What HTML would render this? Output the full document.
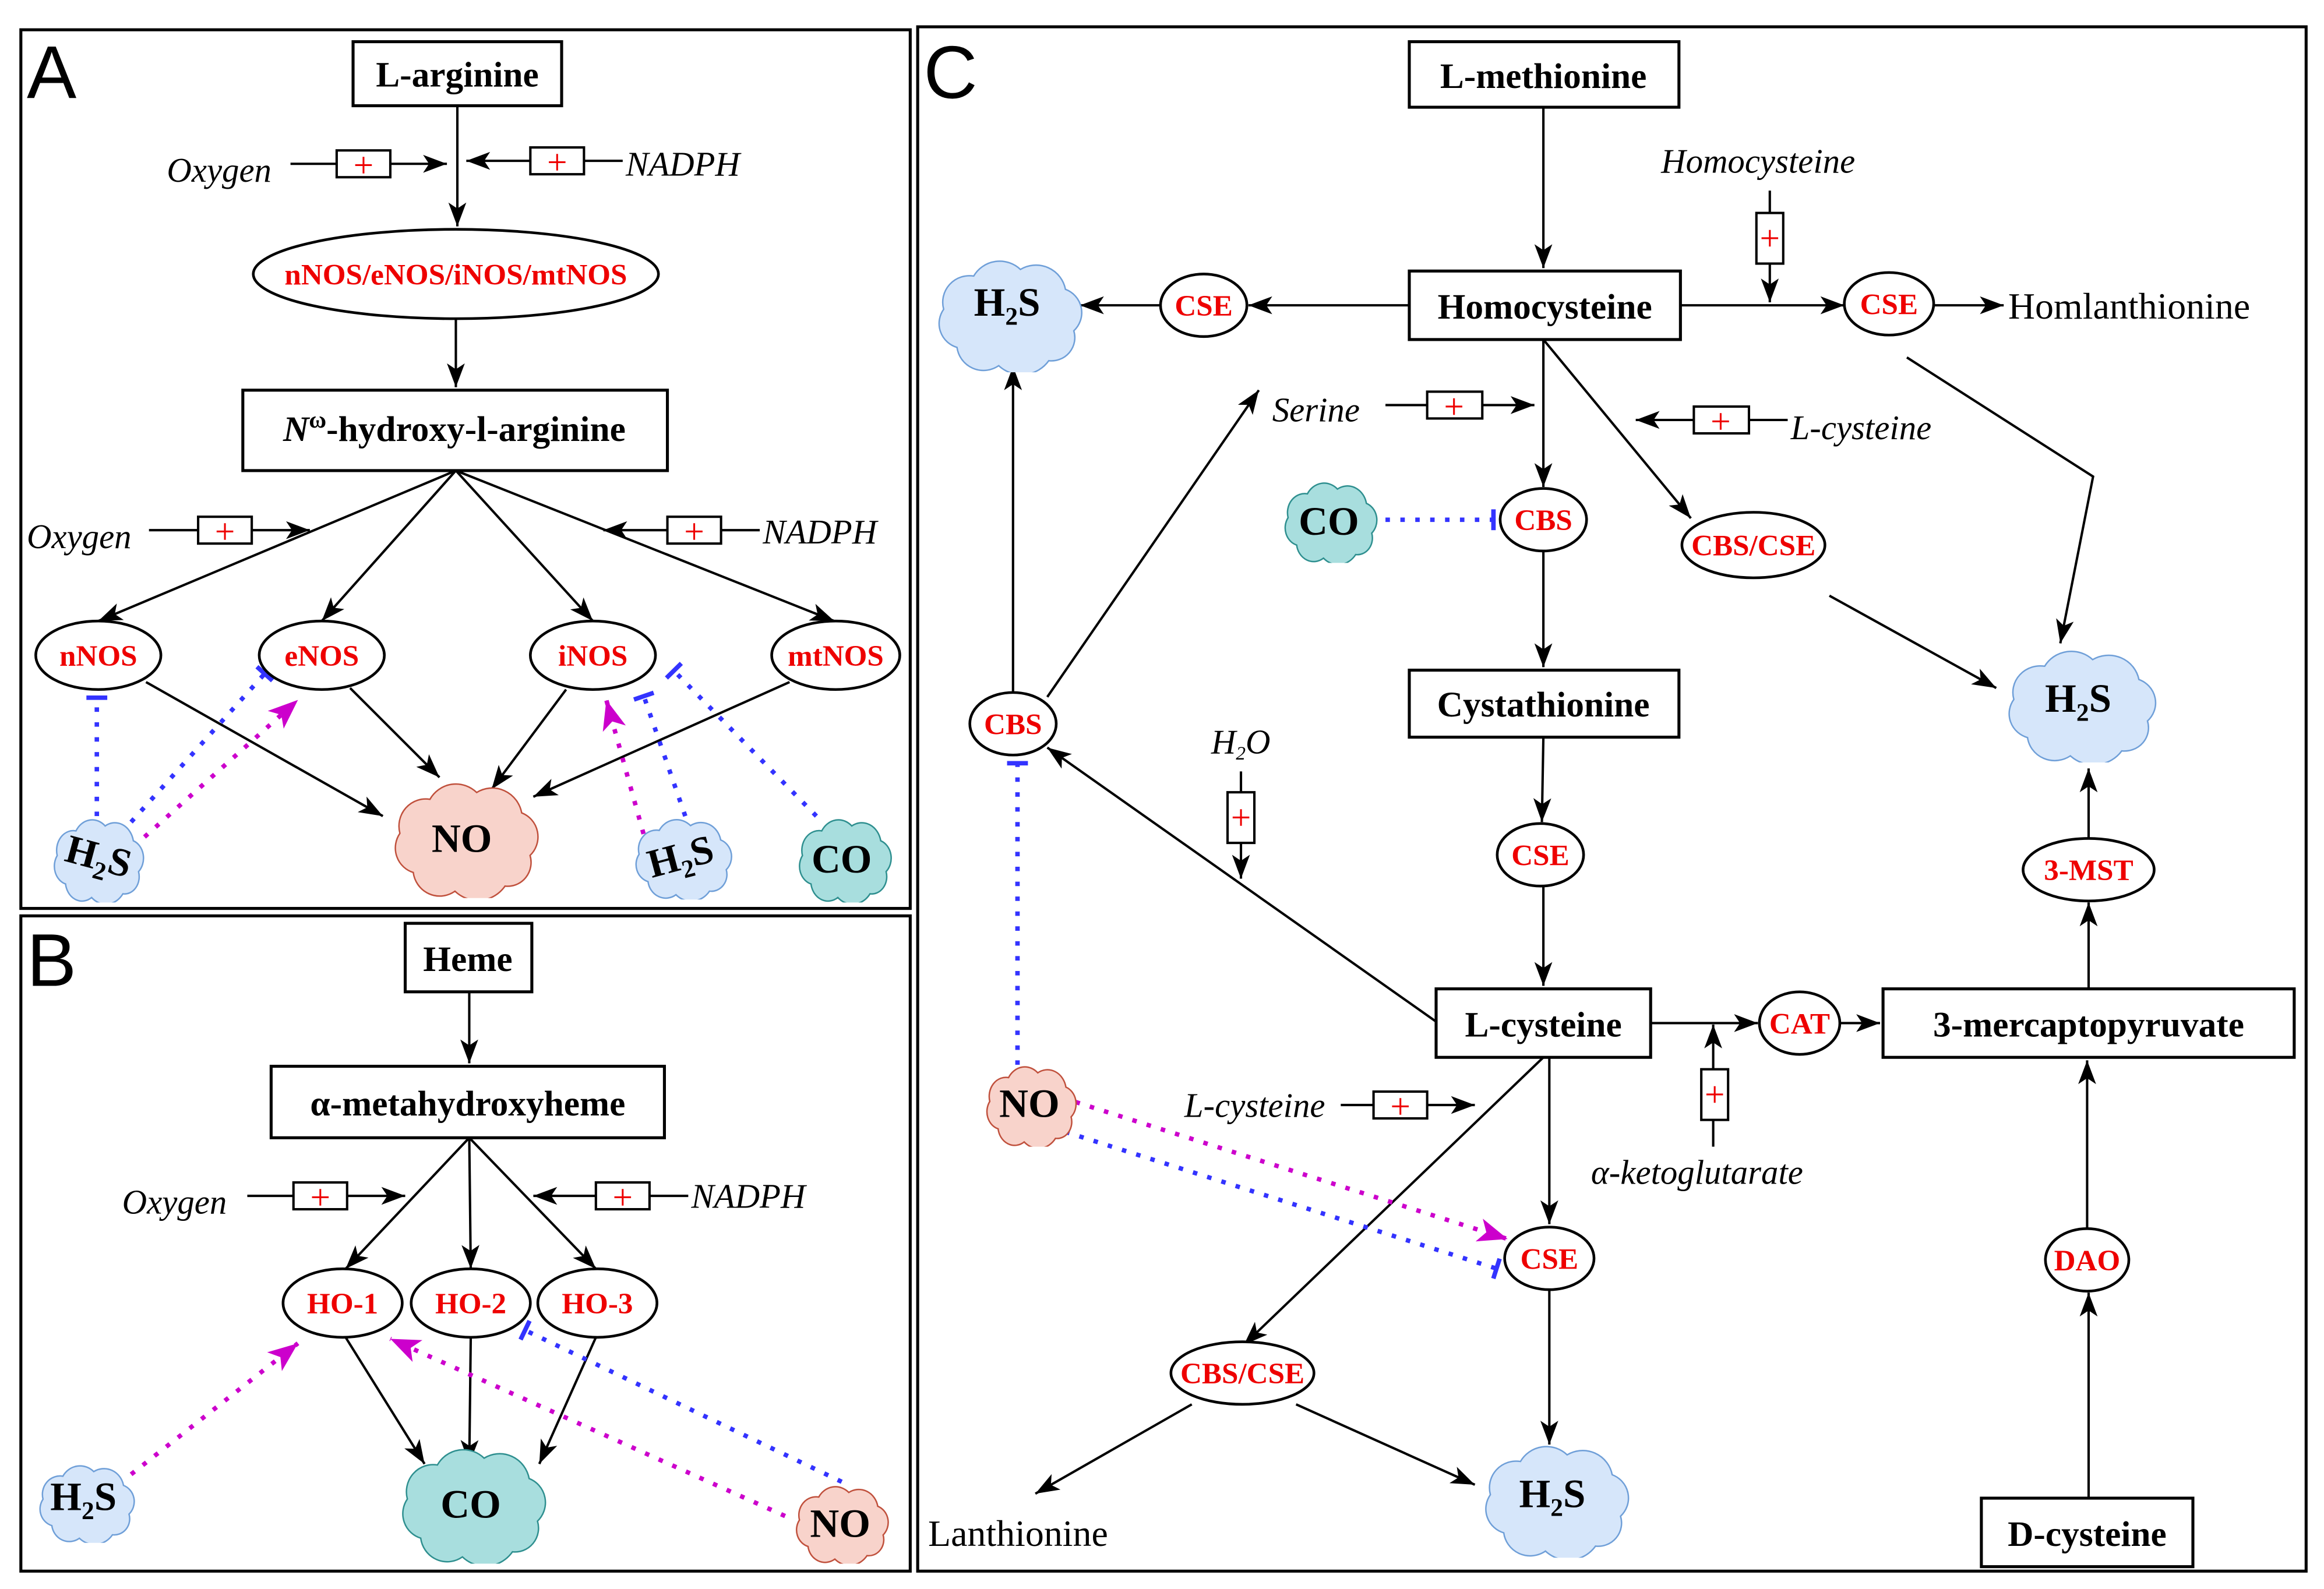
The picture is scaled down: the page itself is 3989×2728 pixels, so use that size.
<!DOCTYPE html>
<html><head><meta charset="utf-8"><style>
html,body{margin:0;padding:0;background:#fff}
svg{display:block}
text{font-family:"Liberation Serif",serif}
.b{font-weight:bold;font-size:24px;text-anchor:middle}
.e{font-weight:bold;font-size:20px;fill:#e00;text-anchor:middle}
.i{font-style:italic;font-size:23px}
.p{fill:#e00;font-size:24px;text-anchor:middle}
.c{font-weight:bold;font-size:27px;text-anchor:middle}
</style></head><body>
<svg width="3989" height="2728" viewBox="0 0 1560 1067" preserveAspectRatio="none" xmlns="http://www.w3.org/2000/svg">
<defs>
<marker id="a" markerUnits="userSpaceOnUse" markerWidth="18" markerHeight="14" refX="16" refY="7" orient="auto"><path d="M0,1 L16,7 L0,13 L4,7 Z" fill="#000"/></marker>
<marker id="m" markerUnits="userSpaceOnUse" markerWidth="22" markerHeight="18" refX="20" refY="9" orient="auto"><path d="M0,1 L20,9 L0,17 L5,9 Z" fill="#c0c"/></marker>
<marker id="t" markerUnits="userSpaceOnUse" markerWidth="6" markerHeight="16" refX="3" refY="8" orient="auto"><rect x="1" y="1" width="3" height="14" fill="#33f"/></marker>
<symbol id="cl" viewBox="0 0 100 70" preserveAspectRatio="none"><path vector-effect="non-scaling-stroke" stroke-width="2.5" d="M20,55 A15,15 0 0 1 12,32 A16,16 0 0 1 30,12 A18,18 0 0 1 58,8 A18,18 0 0 1 85,20 A15,15 0 0 1 90,45 A14,14 0 0 1 75,63 A20,20 0 0 1 45,66 A16,16 0 0 1 20,55 Z"/></symbol>
</defs>
<g fill="none" stroke="#000" stroke-width="2">
<rect x="14" y="20" width="597" height="590"/>
<rect x="14" y="615" width="597" height="440"/>
<rect x="616" y="18" width="932" height="1037"/>
</g>
<text x="18" y="66" style="font-family:'Liberation Sans',sans-serif" font-size="50">A</text>
<text x="18" y="662" style="font-family:'Liberation Sans',sans-serif" font-size="50">B</text>
<text x="620" y="66" style="font-family:'Liberation Sans',sans-serif" font-size="50">C</text>

<g stroke="#000" stroke-width="1.6" fill="none" marker-end="url(#a)">
<line x1="307" y1="71" x2="307" y2="152"/>
<line x1="195" y1="110" x2="300" y2="110"/>
<line x1="418" y1="108" x2="313" y2="108"/>
<line x1="306" y1="214" x2="306" y2="260"/>
<line x1="306" y1="316" x2="66" y2="417"/>
<line x1="306" y1="316" x2="216" y2="417"/>
<line x1="306" y1="316" x2="398" y2="417"/>
<line x1="306" y1="316" x2="560" y2="417"/>
<line x1="100" y1="356" x2="208" y2="356"/>
<line x1="510" y1="356" x2="405" y2="356"/>
<line x1="98" y1="458" x2="257" y2="548"/>
<line x1="235" y1="462" x2="295" y2="522"/>
<line x1="380" y1="463" x2="330" y2="530"/>
<line x1="530" y1="458" x2="358" y2="535"/>
<line x1="315" y1="666" x2="315" y2="714"/>
<line x1="166" y1="803" x2="272" y2="803"/>
<line x1="462" y1="803" x2="358" y2="803"/>
<line x1="315" y1="764" x2="232" y2="852"/>
<line x1="315" y1="764" x2="316" y2="852"/>
<line x1="315" y1="764" x2="400" y2="852"/>
<line x1="232" y1="898" x2="285" y2="983"/>
<line x1="316" y1="898" x2="315" y2="983"/>
<line x1="400" y1="898" x2="362" y2="983"/>
<line x1="1036" y1="72" x2="1036" y2="180"/>
<line x1="1188" y1="128" x2="1188" y2="203"/>
<line x1="1128" y1="205" x2="1238" y2="205"/>
<line x1="1298" y1="205" x2="1345" y2="205"/>
<line x1="946" y1="205" x2="838" y2="205"/>
<line x1="779" y1="205" x2="725" y2="205"/>
<line x1="930" y1="272" x2="1030" y2="272"/>
<line x1="1200" y1="282" x2="1098" y2="282"/>
<line x1="1036" y1="228" x2="1036" y2="327"/>
<line x1="1036" y1="228" x2="1135" y2="348"/>
<polyline points="1280,240 1405,320 1383,432"/>
<line x1="1228" y1="400" x2="1340" y2="462"/>
<line x1="1036" y1="370" x2="1036" y2="448"/>
<line x1="1036" y1="495" x2="1035" y2="552"/>
<line x1="1036" y1="595" x2="1036" y2="662"/>
<line x1="833" y1="518" x2="833" y2="590"/>
<line x1="964" y1="686" x2="703" y2="502"/>
<line x1="680" y1="465" x2="680" y2="246"/>
<line x1="703" y1="468" x2="845" y2="262"/>
<line x1="900" y1="742" x2="990" y2="742"/>
<line x1="1108" y1="687" x2="1180" y2="687"/>
<line x1="1235" y1="687" x2="1262" y2="687"/>
<line x1="1150" y1="770" x2="1150" y2="688"/>
<line x1="1402" y1="664" x2="1402" y2="606"/>
<line x1="1402" y1="563" x2="1402" y2="516"/>
<line x1="1402" y1="1006" x2="1402" y2="868"/>
<line x1="1401" y1="825" x2="1401" y2="712"/>
<line x1="1040" y1="710" x2="1040" y2="822"/>
<line x1="1040" y1="866" x2="1040" y2="970"/>
<line x1="1036" y1="710" x2="835" y2="903"/>
<line x1="800" y1="943" x2="695" y2="1003"/>
<line x1="870" y1="943" x2="990" y2="997"/>
</g>

<g fill="none" stroke-width="3" stroke-dasharray="3,7">
<line x1="65" y1="548" x2="65" y2="468" stroke="#33f" marker-end="url(#t)"/>
<line x1="88" y1="552" x2="178" y2="452" stroke="#33f" marker-end="url(#t)"/>
<line x1="97" y1="562" x2="200" y2="470" stroke="#c0c" marker-end="url(#m)"/>
<line x1="432" y1="560" x2="407" y2="470" stroke="#c0c" marker-end="url(#m)"/>
<line x1="460" y1="548" x2="432" y2="467" stroke="#33f" marker-end="url(#t)"/>
<line x1="548" y1="548" x2="452" y2="450" stroke="#33f" marker-end="url(#t)"/>
<line x1="88" y1="990" x2="200" y2="902" stroke="#c0c" marker-end="url(#m)"/>
<line x1="527" y1="1018" x2="262" y2="899" stroke="#c0c" marker-end="url(#m)"/>
<line x1="565" y1="995" x2="352" y2="893" stroke="#33f" marker-end="url(#t)"/>
<line x1="930" y1="349" x2="1003" y2="349" stroke="#33f" marker-end="url(#t)"/>
<line x1="683" y1="715" x2="683" y2="512" stroke="#33f" marker-end="url(#t)"/>
<line x1="722" y1="740" x2="1012" y2="832" stroke="#c0c" marker-end="url(#m)"/>
<line x1="715" y1="760" x2="1005" y2="852" stroke="#33f" marker-end="url(#t)"/>
</g>

<g fill="#fff" stroke="#000" stroke-width="2">
<rect x="237" y="28" width="140" height="43"/>
<rect x="163" y="262" width="285" height="54"/>
<rect x="272" y="620" width="85" height="46"/>
<rect x="182" y="716" width="264" height="48"/>
<rect x="946" y="28" width="181" height="44"/>
<rect x="946" y="182" width="182" height="46"/>
<rect x="946" y="450" width="181" height="45"/>
<rect x="964" y="664" width="144" height="46"/>
<rect x="1264" y="664" width="276" height="46"/>
<rect x="1330" y="1006" width="142" height="46"/>
</g>
<g fill="#fff" stroke="#000" stroke-width="1.6">
<rect x="226" y="101" width="36" height="18"/>
<rect x="356" y="99" width="36" height="18"/>
<rect x="133" y="347" width="36" height="18"/>
<rect x="448" y="347" width="36" height="18"/>
<rect x="197" y="794" width="36" height="18"/>
<rect x="400" y="794" width="36" height="18"/>
<rect x="958" y="263" width="37" height="18"/>
<rect x="1137" y="273" width="37" height="18"/>
<rect x="922" y="733" width="36" height="18"/>
<rect x="1179" y="143" width="18" height="34"/>
<rect x="824" y="532" width="18" height="34"/>
<rect x="1142" y="718" width="18" height="34"/>
</g>
<g>
<text x="244" y="119" class="p">+</text><text x="374" y="117" class="p">+</text>
<text x="151" y="365" class="p">+</text><text x="466" y="365" class="p">+</text>
<text x="215" y="812" class="p">+</text><text x="418" y="812" class="p">+</text>
<text x="976" y="281" class="p">+</text><text x="1155" y="291" class="p">+</text>
<text x="940" y="751" class="p">+</text><text x="1188" y="168" class="p">+</text>
<text x="833" y="557" class="p">+</text><text x="1151" y="743" class="p">+</text>
</g>

<g fill="#fff" stroke="#000" stroke-width="1.8">
<ellipse cx="306" cy="184" rx="136" ry="30"/>
<ellipse cx="66" cy="440" rx="42" ry="23"/>
<ellipse cx="216" cy="440" rx="42" ry="23"/>
<ellipse cx="398" cy="440" rx="42" ry="23"/>
<ellipse cx="561" cy="440" rx="43" ry="23"/>
<ellipse cx="230" cy="875" rx="40" ry="23"/>
<ellipse cx="316" cy="875" rx="40" ry="23"/>
<ellipse cx="401" cy="875" rx="40" ry="23"/>
<ellipse cx="1268" cy="204" rx="30" ry="21"/>
<ellipse cx="808" cy="205" rx="29" ry="21"/>
<ellipse cx="1036" cy="349" rx="29" ry="21"/>
<ellipse cx="1177" cy="366" rx="48" ry="22"/>
<ellipse cx="1034" cy="574" rx="29" ry="21"/>
<ellipse cx="680" cy="486" rx="29" ry="21"/>
<ellipse cx="1208" cy="687" rx="27" ry="21"/>
<ellipse cx="1402" cy="584" rx="44" ry="21"/>
<ellipse cx="1401" cy="846" rx="28" ry="21"/>
<ellipse cx="1040" cy="845" rx="30" ry="21"/>
<ellipse cx="834" cy="922" rx="48" ry="21"/>
</g>
<g>
<text x="306" y="191" class="e">nNOS/eNOS/iNOS/mtNOS</text>
<text x="66" y="447" class="e">nNOS</text><text x="216" y="447" class="e">eNOS</text>
<text x="398" y="447" class="e">iNOS</text><text x="561" y="447" class="e">mtNOS</text>
<text x="230" y="882" class="e">HO-1</text><text x="316" y="882" class="e">HO-2</text><text x="401" y="882" class="e">HO-3</text>
<text x="1268" y="211" class="e">CSE</text><text x="808" y="212" class="e">CSE</text>
<text x="1036" y="356" class="e">CBS</text><text x="1177" y="373" class="e">CBS/CSE</text>
<text x="1034" y="581" class="e">CSE</text><text x="680" y="493" class="e">CBS</text>
<text x="1208" y="694" class="e">CAT</text><text x="1402" y="591" class="e">3-MST</text>
<text x="1401" y="853" class="e">DAO</text><text x="1040" y="852" class="e">CSE</text>
<text x="834" y="929" class="e">CBS/CSE</text>
</g>

<use href="#cl" x="255" y="523" width="112" height="80" fill="#f8d3cb" stroke="#c0503c"/>
<use href="#cl" x="30" y="548" width="70" height="58" fill="#d6e6fa" stroke="#6f9fd8"/>
<use href="#cl" x="420" y="548" width="75" height="56" fill="#d6e6fa" stroke="#6f9fd8"/>
<use href="#cl" x="530" y="548" width="72" height="58" fill="#a8dede" stroke="#2e8f8f"/>
<use href="#cl" x="260" y="970" width="112" height="80" fill="#a8dede" stroke="#2e8f8f"/>
<use href="#cl" x="20" y="982" width="74" height="54" fill="#d6e6fa" stroke="#6f9fd8"/>
<use href="#cl" x="528" y="996" width="72" height="54" fill="#f8d3cb" stroke="#c0503c"/>
<use href="#cl" x="620" y="172" width="112" height="78" fill="#d6e6fa" stroke="#6f9fd8"/>
<use href="#cl" x="856" y="322" width="72" height="56" fill="#a8dede" stroke="#2e8f8f"/>
<use href="#cl" x="1338" y="434" width="115" height="78" fill="#d6e6fa" stroke="#6f9fd8"/>
<use href="#cl" x="656" y="714" width="70" height="56" fill="#f8d3cb" stroke="#c0503c"/>
<use href="#cl" x="987" y="968" width="112" height="78" fill="#d6e6fa" stroke="#6f9fd8"/>

<g>
<text x="310" y="572" class="c">NO</text>
<text x="66" y="584" class="c" transform="rotate(15 66 576)">H<tspan font-size="17" dy="6">2</tspan><tspan dy="-6">S</tspan></text>
<text x="457" y="584" class="c" transform="rotate(-15 457 576)">H<tspan font-size="17" dy="6">2</tspan><tspan dy="-6">S</tspan></text>
<text x="565" y="586" class="c">CO</text>
<text x="316" y="1019" class="c">CO</text>
<text x="56" y="1014" class="c">H<tspan font-size="17" dy="6">2</tspan><tspan dy="-6">S</tspan></text>
<text x="564" y="1032" class="c">NO</text>
<text x="676" y="212" class="c">H<tspan font-size="17" dy="6">2</tspan><tspan dy="-6">S</tspan></text>
<text x="892" y="359" class="c">CO</text>
<text x="1395" y="478" class="c">H<tspan font-size="17" dy="6">2</tspan><tspan dy="-6">S</tspan></text>
<text x="691" y="750" class="c">NO</text>
<text x="1042" y="1012" class="c">H<tspan font-size="17" dy="6">2</tspan><tspan dy="-6">S</tspan></text>
</g>

<text x="307" y="58" class="b">L-arginine</text>
<text x="305" y="296" class="b"><tspan font-style="italic">N</tspan><tspan font-size="16" dy="-9">ω</tspan><tspan dy="9">-hydroxy-l-arginine</tspan></text>
<text x="314" y="652" class="b">Heme</text>
<text x="314" y="749" class="b">α-metahydroxyheme</text>
<text x="1036" y="59" class="b">L-methionine</text>
<text x="1037" y="214" class="b">Homocysteine</text>
<text x="1036" y="481" class="b">Cystathionine</text>
<text x="1036" y="696" class="b">L-cysteine</text>
<text x="1402" y="696" class="b">3-mercaptopyruvate</text>
<text x="1401" y="1038" class="b">D-cysteine</text>

<text x="112" y="122" class="i">Oxygen</text>
<text x="420" y="118" class="i">NADPH</text>
<text x="18" y="368" class="i">Oxygen</text>
<text x="512" y="365" class="i">NADPH</text>
<text x="82" y="815" class="i">Oxygen</text>
<text x="464" y="811" class="i">NADPH</text>
<text x="1115" y="116" class="i">Homocysteine</text>
<text x="854" y="283" class="i">Serine</text>
<text x="1202" y="295" class="i">L-cysteine</text>
<text x="813" y="506" class="i" font-size="19">H<tspan font-size="13" dy="4">2</tspan><tspan dy="-4">O</tspan></text>
<text x="795" y="750" class="i">L-cysteine</text>
<text x="1068" y="795" class="i">α-ketoglutarate</text>
<text x="1348" y="214" font-size="25">Homlanthionine</text>
<text x="623" y="1038" font-size="25">Lanthionine</text>
</svg>
</body></html>
